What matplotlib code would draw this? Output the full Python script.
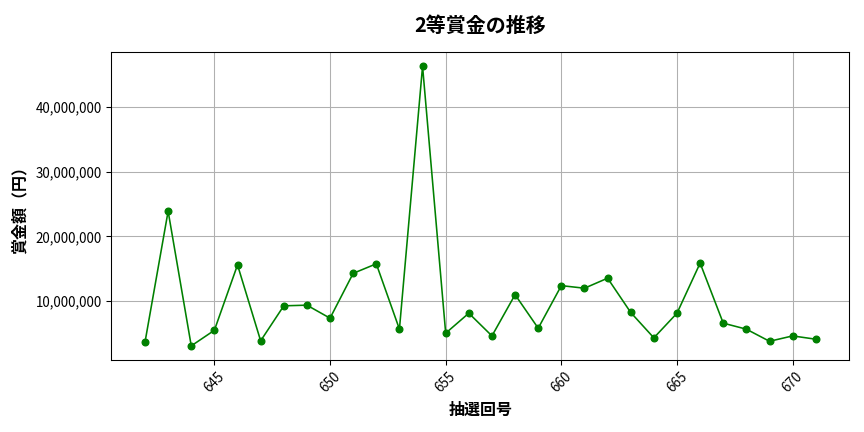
import matplotlib
matplotlib.use("Agg")
import matplotlib.pyplot as plt
from matplotlib.ticker import FuncFormatter

plt.rcParams['font.family'] = ['Noto Sans CJK JP', 'DejaVu Sans']

draws = list(range(642, 672))
prizes = [3660000, 23900000, 3090000, 5500000, 15600000, 3870000, 9280000, 9380000,
          7370000, 14300000, 15770000, 5670000, 46300000, 5050000, 8140000, 4630000,
          11000000, 5820000, 12400000, 12000000, 13550000, 8250000, 4330000, 8140000,
          15880000, 6600000, 5670000, 3800000, 4630000, 4120000]

fig, ax = plt.subplots(figsize=(9, 4.5), dpi=96)
ax.plot(draws, prizes, marker='o', color='green', markersize=5, linewidth=1.2)
ax.set_title('2等賞金の推移', fontsize=15, fontweight='bold', pad=15)
ax.set_xlabel('抽選回号', fontsize=12, fontweight='bold', labelpad=5)
ax.set_ylabel('賞金額（円）', fontsize=12, fontweight='bold', labelpad=6)
ax.yaxis.set_major_formatter(FuncFormatter(lambda v, p: f'{int(v):,}'))
ax.grid(True, color='#b0b0b0', linewidth=0.8)
plt.setp(ax.get_xticklabels(), rotation=45)
ax.tick_params(labelsize=10)
fig.subplots_adjust(left=0.129, right=0.983, top=0.879, bottom=0.167)
fig.savefig('out.png', dpi=96)
